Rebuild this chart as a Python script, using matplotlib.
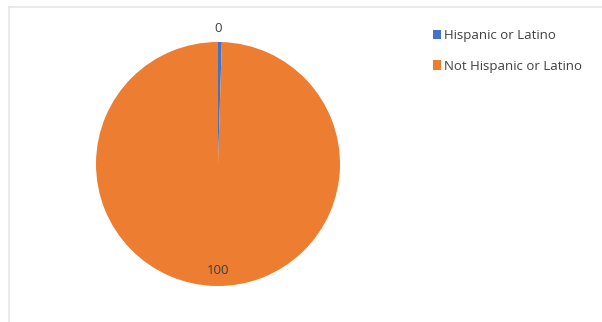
import matplotlib.pyplot as plt
from matplotlib.lines import Line2D
from matplotlib.patches import Patch

categories = ['Hispanic or Latino', 'Not Hispanic or Latino']
shares = [0.5, 99.5]
value_labels = ['0', '100']
colors = ['#4472C4', '#ED7D31']

W, H = 602, 322
fig = plt.figure(figsize=(W / 100, H / 100), dpi=100)
plt.rcParams['font.family'] = ['Open Sans', 'DejaVu Sans']

# light frame around the chart area (top and left visible)
fig.add_artist(Line2D([9 / W, 1], [1 - 6.5 / H] * 2, color='#e6e6e6', lw=1.2))
fig.add_artist(Line2D([9 / W] * 2, [0, 1 - 6.5 / H], color='#e6e6e6', lw=1.2))

# pie centre ~(218,164), radius ~122 px
r = 122
ax = fig.add_axes([(218 - r) / W, 1 - (164 + r) / H, 2 * r / W, 2 * r / H])
wedges, _ = ax.pie(shares, colors=colors, startangle=90, counterclock=False,
                   radius=1, wedgeprops=dict(linewidth=0))
ax.set_xlim(-1, 1)
ax.set_ylim(-1, 1)
ax.set_aspect('equal')
ax.axis('off')

# data labels
ax.text(0, 1 + 14 / r, value_labels[0], ha='center', va='center', fontsize=9.5, color='#404040')
ax.text(0, -(270 - 164) / r, value_labels[1], ha='center', va='center', fontsize=9.5, color='#404040')

handles = [Patch(facecolor=c, edgecolor='none') for c in colors]
fig.legend(handles, categories, loc='upper left', bbox_to_anchor=(421 / W, 1 - 17 / H),
           frameon=False, fontsize=9.5, handlelength=0.6, handleheight=0.7,
           handletextpad=0.25, labelspacing=1.35, labelcolor='#404040')

fig.savefig('out.png', dpi=100)
